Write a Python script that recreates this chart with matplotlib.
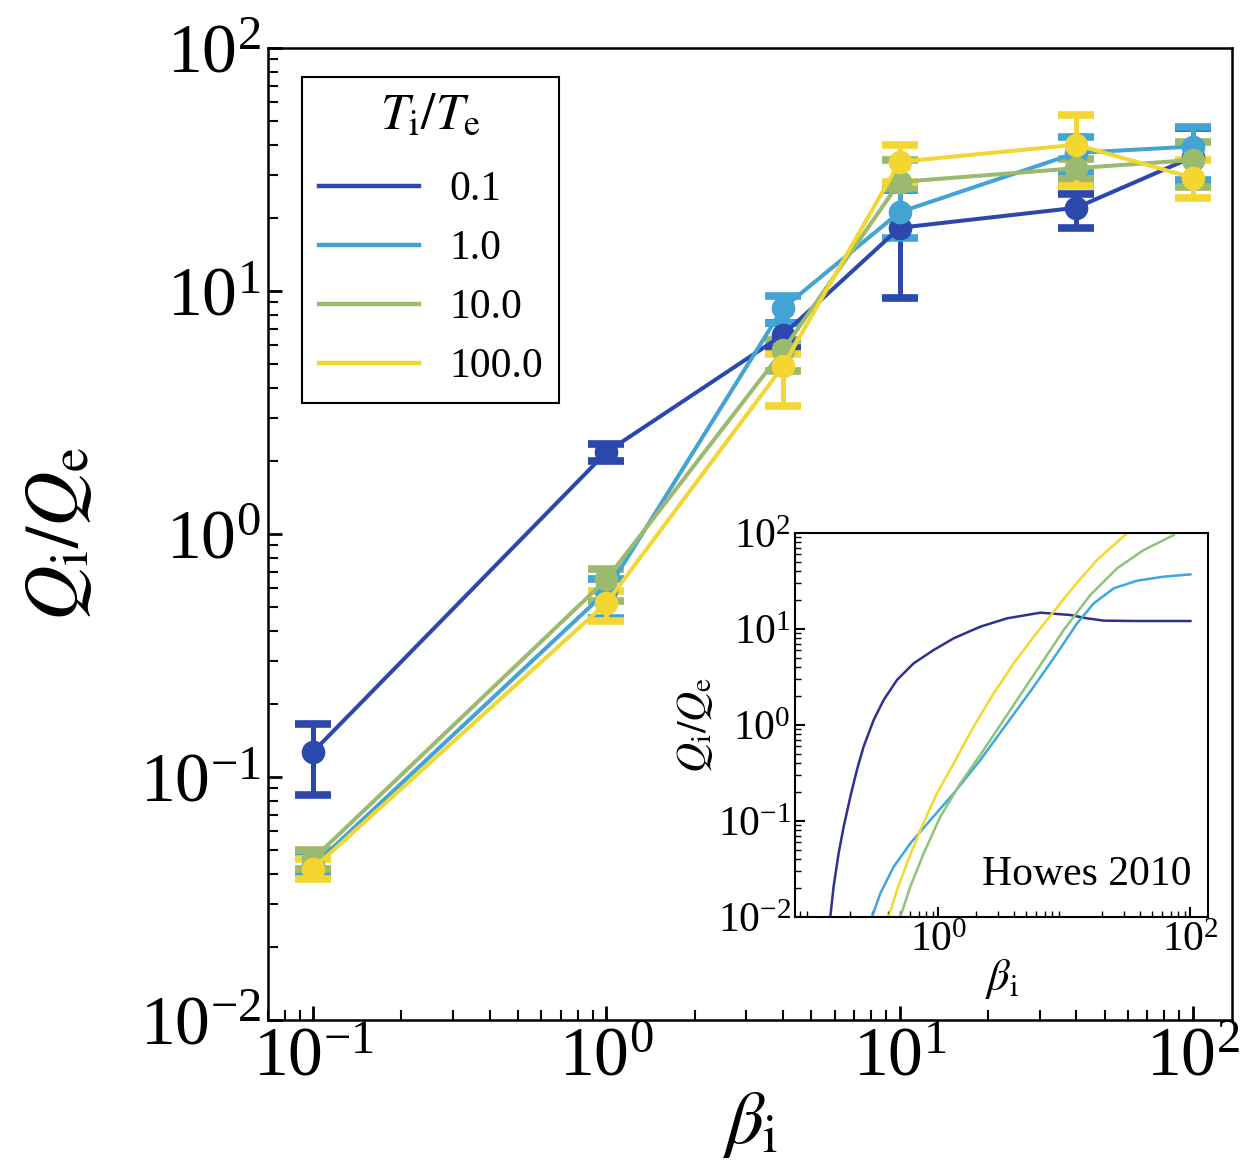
import matplotlib
matplotlib.use('Agg')
import matplotlib.pyplot as plt
import numpy as np
from matplotlib.lines import Line2D
from matplotlib.ticker import LogLocator, NullFormatter

plt.rcParams['font.family'] = ['Liberation Serif', 'DejaVu Serif']
plt.rcParams['mathtext.fontset'] = 'stix'

# Main panel data: beta_i values and Q_i/Q_e for each T_i/T_e
beta = [0.1, 1.0, 4.0, 10.0, 40.0, 100.0]
labels = ['0.1', '1.0', '10.0', '100.0']
colors = ['#2b49ad', '#42a3d4', '#9bb96f', '#f3d631']

q_01 = [0.127, 2.17, 6.6, 18.2, 22.0, 35.6]
q_01_hi = [0.165, 2.35, 7.4, 26.0, 25.0, 47.0]
q_01_lo = [0.084, 2.00, 5.8, 9.4, 18.2, 28.0]

q_1 = [0.043, 0.58, 8.5, 21.1, 37.0, 39.3]
q_1_hi = [0.047, 0.65, 9.5, 26.0, 43.0, 47.5]
q_1_lo = [0.039, 0.45, 7.4, 16.5, 31.0, 28.7]

q_10 = [0.046, 0.65, 5.7, 28.1, 32.0, 34.6]
q_10_hi = [0.050, 0.72, 6.3, 34.6, 35.0, 41.0]
q_10_lo = [0.042, 0.53, 4.7, 26.5, 29.0, 26.8]

q_100 = [0.042, 0.52, 4.9, 34.0, 40.0, 29.2]
q_100_hi = [0.046, 0.58, 5.5, 40.0, 53.0, 34.7]
q_100_lo = [0.038, 0.44, 3.35, 28.0, 27.0, 24.1]

q_all = [q_01, q_1, q_10, q_100]
q_hi_all = [q_01_hi, q_1_hi, q_10_hi, q_100_hi]
q_lo_all = [q_01_lo, q_1_lo, q_10_lo, q_100_lo]

# Inset (Howes 2010) curves, read as log10(beta), log10(Q_i/Q_e)
inset_colors = ['#2e3192', '#3fa6e0', '#8fc37a', '#f2d92e']
h_lb_01 = [-0.857, -0.831, -0.791, -0.751, -0.698, -0.646, -0.593, -0.513, -0.434, -0.328,
           -0.196, -0.037, 0.122, 0.333, 0.545, 0.810, 1.048, 1.180, 1.312, 1.577, 2.0]
h_lq_01 = [-2.0, -1.684, -1.337, -1.059, -0.747, -0.469, -0.226, 0.052, 0.260, 0.469,
           0.642, 0.781, 0.903, 1.024, 1.111, 1.170, 1.146, 1.111, 1.087, 1.083, 1.083]
h_lb_1 = [-0.526, -0.460, -0.354, -0.222, -0.063, 0.122, 0.333, 0.545, 0.757, 0.942,
          1.101, 1.233, 1.392, 1.577, 1.788, 2.0]
h_lq_1 = [-2.0, -1.753, -1.476, -1.233, -0.990, -0.712, -0.365, 0.017, 0.399, 0.747,
          1.059, 1.267, 1.424, 1.503, 1.545, 1.569]
h_lb_10 = [-0.302, -0.222, -0.116, 0.016, 0.175, 0.360, 0.571, 0.783, 0.995, 1.206,
           1.418, 1.630, 1.868]
h_lq_10 = [-2.0, -1.684, -1.337, -0.955, -0.608, -0.260, 0.156, 0.573, 0.990, 1.354,
           1.632, 1.823, 1.979]
h_lb_100 = [-0.394, -0.328, -0.249, -0.143, -0.011, 0.122, 0.280, 0.439, 0.598, 0.757,
            0.915, 1.074, 1.259, 1.497]
h_lq_100 = [-2.0, -1.719, -1.441, -1.094, -0.712, -0.399, -0.017, 0.330, 0.642, 0.920,
            1.181, 1.441, 1.719, 1.997]

inset_lb = [h_lb_01, h_lb_1, h_lb_10, h_lb_100]
inset_lq = [h_lq_01, h_lq_1, h_lq_10, h_lq_100]

# Figure
fig = plt.figure(figsize=(12.45, 11.64), dpi=100)
ax = fig.add_axes([0.215, 0.1237, 0.7746, 0.8351])

for q, qh, ql, c in zip(q_all, q_hi_all, q_lo_all, colors):
    q = np.array(q)
    yerr = [q - np.array(ql), np.array(qh) - q]
    ax.errorbar(beta, q, yerr=yerr, color=c, lw=2.9, marker='o', ms=16,
                elinewidth=3.6, capsize=13, capthick=5.5)

ax.set_xscale('log')
ax.set_yscale('log')
ax.set_xlim(0.07, 136)
ax.set_ylim(0.01, 100)
ax.tick_params(which='both', direction='in', top=False, right=False, labelsize=50, width=2)
ax.tick_params(which='major', length=10)
ax.tick_params(which='minor', length=7, width=1.5)
ax.tick_params(axis='x', pad=5)
ax.tick_params(axis='y', pad=5)
for s in ax.spines.values():
    s.set_linewidth(1.8)
ax.set_xlabel(r'$\beta_{\rm i}$', fontsize=54, labelpad=0)
ax.set_ylabel(r'$Q_{\rm i}/Q_{\rm e}$', fontsize=55)
ax.yaxis.set_label_coords(-0.18, 0.5)

handles = [Line2D([0], [0], color=c, lw=3.2) for c in colors]
leg = ax.legend(handles, labels, title=r'$T_{\rm i}/T_{\rm e}$', loc='upper left',
                bbox_to_anchor=(0.036, 0.97), borderaxespad=0, fontsize=30,
                title_fontsize=37, handlelength=2.4, handletextpad=0.72, fancybox=False,
                framealpha=1, edgecolor='black', borderpad=0.4, labelspacing=0.49)
leg.get_frame().set_linewidth(1.5)
leg._legend_box.sep = 22  # a bit more room under the title

# Inset
ins = fig.add_axes([0.6386, 0.2122, 0.3317, 0.3299])
for lb, lq, c in zip(inset_lb, inset_lq, inset_colors):
    ins.plot(10 ** np.array(lb), 10 ** np.array(lq), color=c, lw=1.8)
ins.set_xscale('log')
ins.set_yscale('log')
ins.set_xlim(0.073, 138)
ins.set_ylim(0.01, 100)
ins.set_xticks([1, 100])
ins.xaxis.set_minor_locator(LogLocator(base=10, subs=np.arange(2, 10), numticks=20))
ins.xaxis.set_minor_formatter(NullFormatter())
ins.tick_params(which='both', direction='in', top=False, right=False, labelsize=30, width=1.5)
ins.tick_params(which='major', length=7, pad=3)
ins.tick_params(which='minor', length=4, width=1)
for s in ins.spines.values():
    s.set_linewidth(1.5)
ins.set_xlabel(r'$\beta_{\rm i}$', fontsize=32, labelpad=-2)
ins.set_ylabel(r'$Q_{\rm i}/Q_{\rm e}$', fontsize=30, labelpad=2)
ins.text(0.96, 0.06, 'Howes 2010', transform=ins.transAxes, ha='right', va='bottom', fontsize=30)

plt.savefig('out.png', dpi=100)
